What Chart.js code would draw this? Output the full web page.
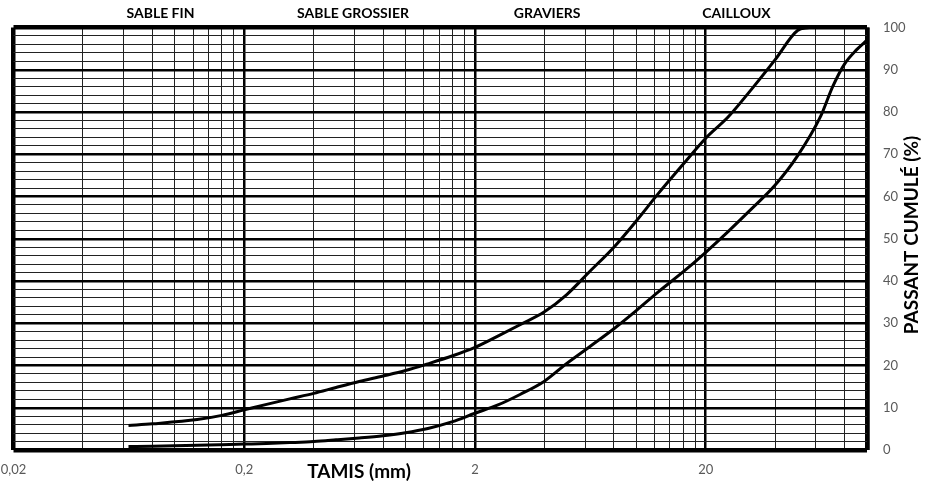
<!DOCTYPE html>
<html><head><meta charset="utf-8">
<script src="https://cdn.jsdelivr.net/npm/chart.js@4"></script>
<style>html,body{margin:0;padding:0;background:#fff;}canvas{display:block;}</style>
</head><body>
<canvas id="c" width="928" height="486"></canvas>
<script>
// ---- data ----
const sizesFine   = [0.063,0.08,0.125,0.16,0.2,0.25,0.315,0.4,0.5,0.63,0.8,1,1.25,1.6,2,2.5,3.15,4,5,6.3,8,10,12.5,16,20,25,31.5,40,50,56];
const passingFine = [5.8,6.2,7.2,8.2,9.5,10.8,12.1,13.4,14.8,16.2,17.5,18.8,20.4,22.3,24.3,26.9,29.7,32.7,36.8,42.3,48.0,54.2,60.8,67.7,73.8,78.8,85.3,92.4,99.3,100];
const sizesCoarse   = [0.063,0.08,0.125,0.16,0.2,0.25,0.315,0.4,0.5,0.63,0.8,1,1.25,1.6,2,2.5,3.15,4,5,6.3,8,10,12.5,16,20,25,31.5,40,50,63,71,80,90,100];
const passingCoarse = [0.8,0.9,1.1,1.25,1.4,1.55,1.75,2.0,2.4,2.85,3.4,4.1,5.1,6.7,8.7,10.6,13.2,16.3,20.5,24.5,28.7,33.0,37.5,42.2,46.8,51.7,57.0,62.7,69.6,79.0,86.0,91.4,94.7,97.0];

const xTickValues = [0.02, 0.2, 2, 20];
const xTickLabels = ['0,02', '0,2', '2', '20'];
const yTickValues = [0,10,20,30,40,50,60,70,80,90,100];
const zoneNames = ['SABLE FIN', 'SABLE GROSSIER', 'GRAVIERS', 'CAILLOUX'];
const xTitle = 'TAMIS (mm)';
const yTitle = 'PASSANT CUMULÉ (%)';

// ---- axis structure ----
const X_MIN = 0.02, X_MAX = 100;
const xGrid = [];
[0.02, 0.2, 2, 20].forEach(b => { for (let k = 1; k <= 9; k++) { const v = b * k; if (v <= X_MAX * 1.0001) xGrid.push(v); } });
xGrid.push(X_MAX);
const yGrid = [];
for (let v = 0; v <= 100; v += 2) yGrid.push(v);

const near = (a, b) => Math.abs(a - b) <= Math.abs(b) * 1e-6;
const zoneLabelAt = [0.0867, 0.592, 4.11, 27.2];

const textPlugin = {
  id: 'texts',
  afterDraw(chart) {
    const { ctx, scales: { x } } = chart;
    ctx.save();
    ctx.fillStyle = '#000';
    ctx.textAlign = 'center';
    ctx.textBaseline = 'middle';
    ctx.font = 'bold 14px Lato';
    zoneNames.forEach((n, i) => ctx.fillText(n, x.getPixelForValue(zoneLabelAt[i]), 13));
    ctx.font = 'bold 19px Lato';
    ctx.fillText(xTitle, 359, 472);
    ctx.translate(912, 235);
    ctx.rotate(-Math.PI / 2);
    ctx.font = 'bold 19px Lato';
    ctx.fillText(yTitle, 0, 0);
    ctx.restore();
  }
};

const lineDs = (xs, ys) => ({
  data: xs.map((v, i) => ({ x: v, y: ys[i] })),
  borderColor: '#000',
  borderWidth: 3,
  pointRadius: 0,
  showLine: true,
  fill: false,
  cubicInterpolationMode: 'monotone'
});

new Chart(document.getElementById('c'), {
  type: 'scatter',
  data: { datasets: [lineDs(sizesFine, passingFine), lineDs(sizesCoarse, passingCoarse)] },
  options: {
    responsive: false,
    animation: false,
    devicePixelRatio: 1,
    layout: { padding: { left: 13.5, top: 27.5, right: 0, bottom: 0 } },
    plugins: { legend: { display: false }, tooltip: { enabled: false } },
    scales: {
      x: {
        type: 'logarithmic',
        position: 'bottom',
        min: X_MIN, max: X_MAX,
        afterBuildTicks: s => { s.ticks = xGrid.map(v => ({ value: v })); },
        afterFit: s => { s.height = 36; s.paddingLeft = 0; s.paddingRight = 0; },
        border: { display: false },
        grid: {
          drawTicks: false,
          color: ctx => {
            const v = ctx.tick ? ctx.tick.value : 0;
            return (xTickValues.some(t => near(v, t)) || near(v, X_MAX)) ? '#000' : '#222';
          },
          lineWidth: ctx => {
            const v = ctx.tick ? ctx.tick.value : 0;
            if (near(v, X_MIN) || near(v, X_MAX)) return 4.5;
            if (xTickValues.some(t => near(v, t))) return 2.5;
            return 1;
          }
        },
        ticks: {
          autoSkip: false, maxRotation: 0, minRotation: 0, padding: 12,
          color: '#595959', font: { family: 'Lato', size: 13 },
          callback: v => { const i = xTickValues.findIndex(t => near(v, t)); return i >= 0 ? xTickLabels[i] : ''; }
        }
      },
      y: {
        type: 'linear',
        position: 'right',
        min: 0, max: 100,
        afterBuildTicks: s => { s.ticks = yGrid.map(v => ({ value: v })); },
        afterFit: s => { s.width = 61; },
        border: { display: false },
        grid: {
          drawTicks: false,
          color: ctx => {
            const v = ctx.tick ? ctx.tick.value : 0;
            return v % 10 === 0 ? '#000' : '#222';
          },
          lineWidth: ctx => {
            const v = ctx.tick ? ctx.tick.value : 0;
            if (v === 0 || v === 100) return 4.5;
            if (v % 10 === 0) return 2.5;
            return 1;
          }
        },
        ticks: {
          autoSkip: false, padding: 16,
          color: '#595959', font: { family: 'Lato', size: 13 },
          callback: v => yTickValues.includes(v) ? String(v) : ''
        }
      }
    }
  },
  plugins: [textPlugin]
});
</script>
</body></html>
